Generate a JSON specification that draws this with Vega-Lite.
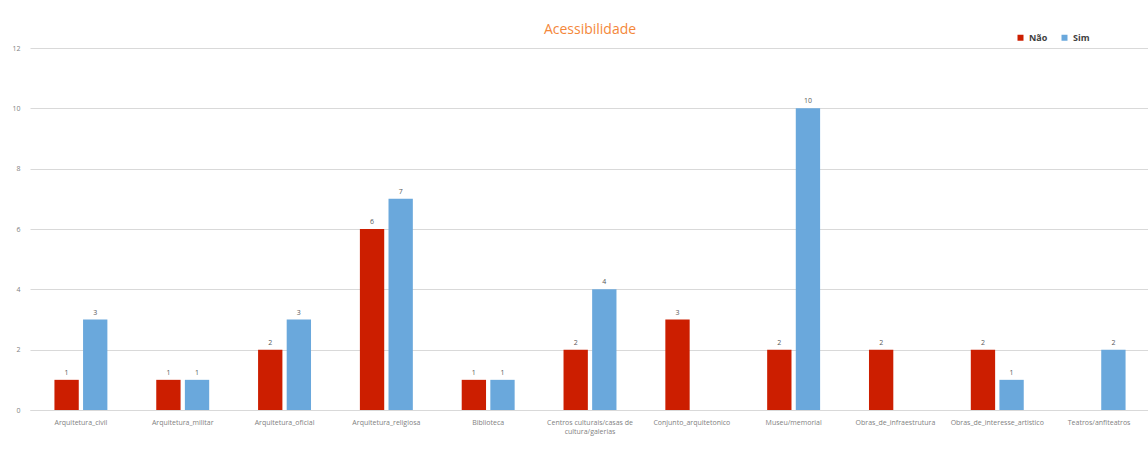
{
  "$schema": "https://vega.github.io/schema/vega-lite/v6.json",
  "autosize": {"type": "none"},
  "width": 1120,
  "height": 362,
  "padding": {"left": 30, "top": 48, "right": 0, "bottom": 46},
  "background": "white",
  "title": {"text": "Acessibilidade", "color": "#F4873A", "font": "Open Sans", "fontSize": 14, "fontWeight": "normal", "anchor": "middle", "offset": -4},
  "config": {"view": {"stroke": null}, "font": "Open Sans"},
  "data": {"values": [
    {"categoria": "Arquitetura_civil", "resposta": "Não", "valor": 1},
    {"categoria": "Arquitetura_civil", "resposta": "Sim", "valor": 3},
    {"categoria": "Arquitetura_militar", "resposta": "Não", "valor": 1},
    {"categoria": "Arquitetura_militar", "resposta": "Sim", "valor": 1},
    {"categoria": "Arquitetura_oficial", "resposta": "Não", "valor": 2},
    {"categoria": "Arquitetura_oficial", "resposta": "Sim", "valor": 3},
    {"categoria": "Arquitetura_religiosa", "resposta": "Não", "valor": 6},
    {"categoria": "Arquitetura_religiosa", "resposta": "Sim", "valor": 7},
    {"categoria": "Biblioteca", "resposta": "Não", "valor": 1},
    {"categoria": "Biblioteca", "resposta": "Sim", "valor": 1},
    {"categoria": "Centros culturais/casas de cultura/galerias", "resposta": "Não", "valor": 2},
    {"categoria": "Centros culturais/casas de cultura/galerias", "resposta": "Sim", "valor": 4},
    {"categoria": "Conjunto_arquitetonico", "resposta": "Não", "valor": 3},
    {"categoria": "Museu/memorial", "resposta": "Não", "valor": 2},
    {"categoria": "Museu/memorial", "resposta": "Sim", "valor": 10},
    {"categoria": "Obras_de_infraestrutura", "resposta": "Não", "valor": 2},
    {"categoria": "Obras_de_interesse_artistico", "resposta": "Não", "valor": 2},
    {"categoria": "Obras_de_interesse_artistico", "resposta": "Sim", "valor": 1},
    {"categoria": "Teatros/anfiteatros", "resposta": "Sim", "valor": 2}
  ]},
  "encoding": {
    "x": {"field": "categoria", "type": "nominal", "sort": null,
      "scale": {"paddingInner": 0.48, "paddingOuter": 0.24},
      "axis": {"title": null, "labelAngle": 0, "labelFontSize": 7, "labelColor": "#7f7f7f", "domainColor": "#d9d9d9", "ticks": false, "labelPadding": 8, "labelLimit": 200,
        "labelExpr": "datum.label == 'Centros culturais/casas de cultura/galerias' ? ['Centros culturais/casas de', 'cultura/galerias'] : datum.label"}},
    "xOffset": {"field": "resposta", "type": "nominal", "scale": {"domain": ["Não", "Sim"], "paddingInner": 0.15}},
    "y": {"field": "valor", "type": "quantitative",
      "scale": {"domain": [0, 12]},
      "axis": {"title": null, "values": [0, 2, 4, 6, 8, 10, 12], "labelFontSize": 7, "labelColor": "#7f7f7f", "domain": false, "ticks": false, "gridColor": "#d9d9d9", "labelPadding": 10}}
  },
  "layer": [
    {"mark": {"type": "bar"},
      "encoding": {"color": {"field": "resposta", "type": "nominal",
        "scale": {"domain": ["Não", "Sim"], "range": ["#CC1E00", "#6AA8DC"]},
        "legend": {"title": null, "orient": "none", "legendX": 986, "legendY": -15, "direction": "horizontal", "symbolType": "square", "symbolSize": 36, "labelFontSize": 9, "labelFontWeight": "bold", "labelColor": "#404040", "columnPadding": 12, "symbolOffset": 0}}}},
    {"mark": {"type": "text", "dy": -7, "fontSize": 7, "color": "#595959"},
      "encoding": {"text": {"field": "valor", "type": "quantitative"}}}
  ]
}
